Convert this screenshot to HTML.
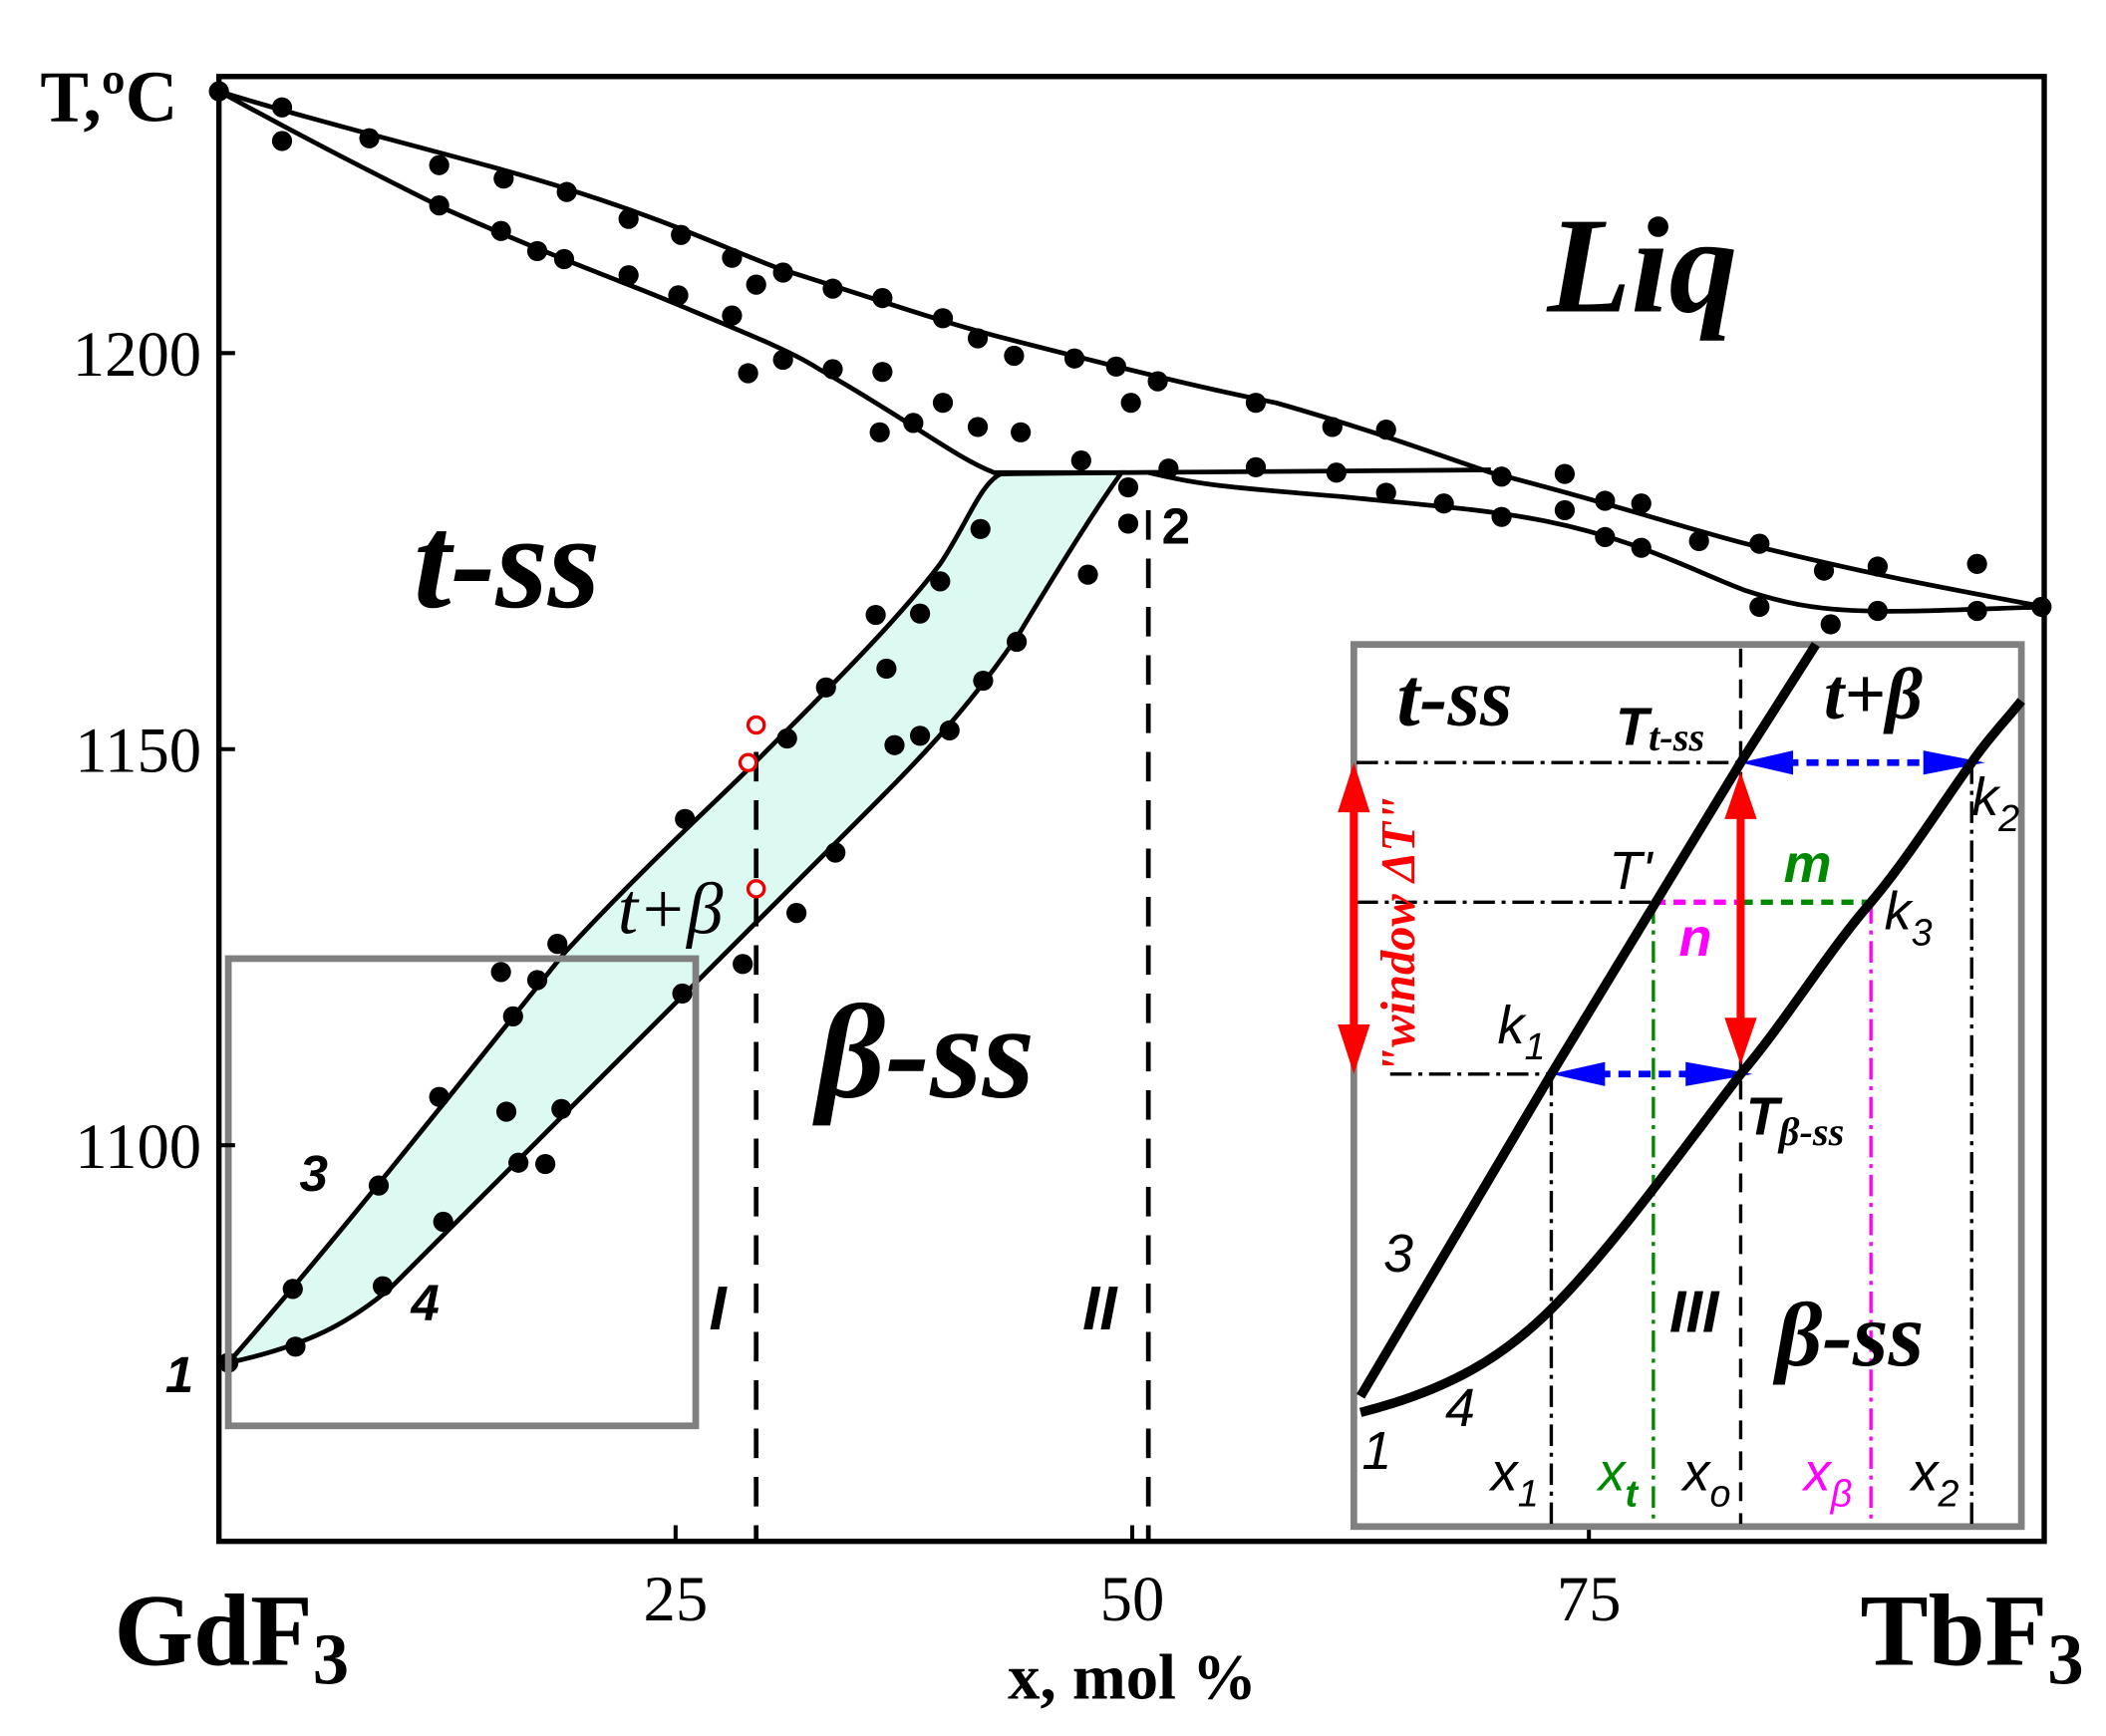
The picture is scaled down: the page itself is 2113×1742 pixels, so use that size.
<!DOCTYPE html>
<html><head><meta charset="utf-8"><style>html,body{margin:0;padding:0;background:#fff}svg{display:block}</style></head>
<body>
<svg width="2113" height="1742" viewBox="0 0 1568 1293" preserveAspectRatio="none" xmlns="http://www.w3.org/2000/svg" font-family="Liberation Serif, serif">
<rect width="1568" height="1293" fill="#fff"/>
<path d="M170,1015 C240,935 300,860 420,710 C480,645 530,600 560,570 C620,510 670,460 700,420 C720,390 730,360 745,353 L835,352 C815,380 790,420 760,470 C720,530 680,570 640,610 C590,660 540,710 520,730 C460,790 420,830 400,850 C340,910 300,950 290,960 C260,985 230,1002 170,1015 Z" fill="#dcfaf2" stroke="#000" stroke-width="3.5"/>
<path d="M163,68 C250,95 350,118 420,140 C500,165 540,185 580,200 C660,225 700,240 760,255 C850,278 900,290 950,300 C1020,320 1060,335 1110,352 C1200,375 1250,392 1300,405 C1400,430 1460,440 1522,452" fill="none" stroke="#000" stroke-width="3.5"/>
<path d="M163,68 C240,110 290,135 330,155 C420,195 470,212 500,225 C560,250 590,262 610,275 C680,315 710,340 740,352 L835,352 M855,352 C890,360 900,362 1000,370 C1080,378 1110,380 1150,388 C1220,402 1260,425 1300,440 C1360,460 1400,456 1522,452" fill="none" stroke="#000" stroke-width="3.5"/>
<path d="M835,352 L1110,350" fill="none" stroke="#000" stroke-width="3.5"/>
<line x1="563" y1="560" x2="563" y2="1148" stroke="#000" stroke-width="3.5" stroke-dasharray="22,14"/>
<line x1="855" y1="380" x2="855" y2="1148" stroke="#000" stroke-width="3.5" stroke-dasharray="22,14"/>
<g fill="#000">
<circle cx="163" cy="68" r="7.5"/><circle cx="210" cy="80" r="7.5"/><circle cx="275" cy="103" r="7.5"/><circle cx="327" cy="123" r="7.5"/><circle cx="375" cy="133" r="7.5"/><circle cx="422" cy="143" r="7.5"/><circle cx="468" cy="163" r="7.5"/><circle cx="507" cy="175" r="7.5"/><circle cx="545" cy="192" r="7.5"/><circle cx="583" cy="203" r="7.5"/><circle cx="620" cy="215" r="7.5"/><circle cx="657" cy="222" r="7.5"/><circle cx="702" cy="237" r="7.5"/><circle cx="728" cy="252" r="7.5"/><circle cx="755" cy="265" r="7.5"/><circle cx="800" cy="267" r="7.5"/><circle cx="831" cy="273" r="7.5"/><circle cx="862" cy="284" r="7.5"/><circle cx="935" cy="300" r="7.5"/><circle cx="992" cy="318" r="7.5"/><circle cx="1032" cy="320" r="7.5"/><circle cx="1118" cy="355" r="7.5"/><circle cx="1165" cy="353" r="7.5"/><circle cx="1195" cy="373" r="7.5"/><circle cx="1222" cy="375" r="7.5"/><circle cx="1310" cy="405" r="7.5"/><circle cx="1358" cy="425" r="7.5"/><circle cx="1398" cy="422" r="7.5"/><circle cx="1472" cy="420" r="7.5"/><circle cx="1520" cy="452" r="7.5"/>
<circle cx="210" cy="105" r="7.5"/><circle cx="327" cy="153" r="7.5"/><circle cx="373" cy="172" r="7.5"/><circle cx="400" cy="187" r="7.5"/><circle cx="420" cy="193" r="7.5"/><circle cx="468" cy="205" r="7.5"/><circle cx="505" cy="220" r="7.5"/><circle cx="545" cy="235" r="7.5"/><circle cx="563" cy="212" r="7.5"/><circle cx="557" cy="278" r="7.5"/><circle cx="583" cy="268" r="7.5"/><circle cx="620" cy="275" r="7.5"/><circle cx="657" cy="277" r="7.5"/><circle cx="655" cy="322" r="7.5"/><circle cx="680" cy="315" r="7.5"/><circle cx="702" cy="300" r="7.5"/><circle cx="728" cy="318" r="7.5"/><circle cx="760" cy="322" r="7.5"/><circle cx="805" cy="343" r="7.5"/><circle cx="842" cy="300" r="7.5"/><circle cx="840" cy="363" r="7.5"/><circle cx="870" cy="349" r="7.5"/><circle cx="935" cy="348" r="7.5"/><circle cx="995" cy="352" r="7.5"/><circle cx="1032" cy="367" r="7.5"/><circle cx="1075" cy="375" r="7.5"/><circle cx="1118" cy="385" r="7.5"/><circle cx="1165" cy="380" r="7.5"/><circle cx="1195" cy="400" r="7.5"/><circle cx="1222" cy="408" r="7.5"/><circle cx="1265" cy="403" r="7.5"/><circle cx="1310" cy="452" r="7.5"/><circle cx="1363" cy="465" r="7.5"/><circle cx="1398" cy="455" r="7.5"/><circle cx="1472" cy="455" r="7.5"/>
<circle cx="652" cy="458" r="7.5"/><circle cx="685" cy="457" r="7.5"/><circle cx="700" cy="433" r="7.5"/><circle cx="730" cy="394" r="7.5"/><circle cx="660" cy="498" r="7.5"/><circle cx="615" cy="512" r="7.5"/><circle cx="586" cy="550" r="7.5"/><circle cx="510" cy="610" r="7.5"/><circle cx="415" cy="703" r="7.5"/><circle cx="373" cy="724" r="7.5"/><circle cx="400" cy="730" r="7.5"/><circle cx="382" cy="757" r="7.5"/><circle cx="327" cy="817" r="7.5"/><circle cx="377" cy="828" r="7.5"/><circle cx="282" cy="883" r="7.5"/><circle cx="218" cy="960" r="7.5"/><circle cx="285" cy="958" r="7.5"/><circle cx="220" cy="1003" r="7.5"/><circle cx="330" cy="910" r="7.5"/><circle cx="386" cy="866" r="7.5"/><circle cx="406" cy="867" r="7.5"/><circle cx="418" cy="826" r="7.5"/><circle cx="508" cy="740" r="7.5"/><circle cx="553" cy="718" r="7.5"/><circle cx="593" cy="680" r="7.5"/><circle cx="622" cy="635" r="7.5"/><circle cx="666" cy="555" r="7.5"/><circle cx="685" cy="548" r="7.5"/><circle cx="707" cy="544" r="7.5"/><circle cx="732" cy="507" r="7.5"/><circle cx="757" cy="478" r="7.5"/><circle cx="810" cy="428" r="7.5"/><circle cx="840" cy="390" r="7.5"/><circle cx="170" cy="1015" r="7.5"/>
</g>
<g fill="#fff" stroke="#e00" stroke-width="2.5"><circle cx="563" cy="540" r="6"/><circle cx="557" cy="568" r="6"/><circle cx="563" cy="662" r="6"/></g>
<rect x="170" y="714" width="348" height="348" fill="none" stroke="#808080" stroke-width="5"/>
<rect x="163" y="57" width="1359" height="1091" fill="none" stroke="#000" stroke-width="4"/>
<g stroke="#000" stroke-width="3"><line x1="163" y1="263" x2="175" y2="263"/><line x1="163" y1="558" x2="175" y2="558"/><line x1="163" y1="853" x2="175" y2="853"/><line x1="503" y1="1148" x2="503" y2="1136"/><line x1="843" y1="1148" x2="843" y2="1136"/><line x1="1183" y1="1148" x2="1183" y2="1136"/></g>
<g font-size="48" fill="#000" text-anchor="end"><text x="150" y="280">1200</text><text x="150" y="575">1150</text><text x="150" y="870">1100</text></g>
<g font-size="48" fill="#000" text-anchor="middle"><text x="503" y="1207">25</text><text x="843" y="1207">50</text><text x="1183" y="1207">75</text></g>
<text x="30" y="90" font-size="54" font-weight="bold">T,ºC</text>
<text x="85" y="1240" font-size="76" font-weight="bold">GdF<tspan font-size="54" dy="14">3</tspan></text>
<text x="1385" y="1240" font-size="76" font-weight="bold">TbF<tspan font-size="54" dy="14">3</tspan></text>
<text x="843" y="1265" font-size="48" font-weight="bold" text-anchor="middle">x, mol %</text>
<text x="1152" y="232" font-size="102" font-weight="bold" font-style="italic">Liq</text>
<text x="308" y="452" font-size="100" font-weight="bold" font-style="italic">t-ss</text>
<text x="608" y="817" font-size="100" font-weight="bold" font-style="italic">β-ss</text>
<text x="460" y="695" font-size="54" font-style="italic">t+β</text>
<g font-family="Liberation Sans, sans-serif" font-weight="bold" font-style="italic" font-size="38"><text x="123" y="1037">1</text><text x="223" y="887">3</text><text x="306" y="983">4</text><text x="865" y="405" font-style="normal">2</text><text x="528" y="990" font-size="46">I</text><text x="806" y="990" font-size="46">II</text></g>
<rect x="1008" y="480" width="497" height="657" fill="#fff" stroke="#808080" stroke-width="5"/>
<g stroke-width="2.5" fill="none">
<line x1="1296" y1="483" x2="1296" y2="1135" stroke="#000" stroke-dasharray="14,9"/>
<line x1="1155" y1="800" x2="1155" y2="1135" stroke="#000" stroke-dasharray="16,5,3,5"/>
<line x1="1231" y1="672" x2="1231" y2="1135" stroke="#080" stroke-dasharray="16,5,3,5"/>
<line x1="1393" y1="672" x2="1393" y2="1135" stroke="#f0f" stroke-dasharray="16,5,3,5"/>
<line x1="1468" y1="568" x2="1468" y2="1135" stroke="#000" stroke-dasharray="16,5,3,5"/>
<line x1="1010" y1="568" x2="1296" y2="568" stroke="#000" stroke-dasharray="16,5,3,5"/>
<line x1="1010" y1="672" x2="1231" y2="672" stroke="#000" stroke-dasharray="16,5,3,5"/>
<line x1="1035" y1="800" x2="1155" y2="800" stroke="#000" stroke-dasharray="16,5,3,5"/>
<line x1="1231" y1="672" x2="1296" y2="672" stroke="#f0f" stroke-width="4" stroke-dasharray="9,6"/>
<line x1="1296" y1="672" x2="1393" y2="672" stroke="#080" stroke-width="4" stroke-dasharray="9,6"/>
<line x1="1330" y1="568" x2="1435" y2="568" stroke="#00f" stroke-width="5" stroke-dasharray="9,6"/>
<line x1="1190" y1="800" x2="1260" y2="800" stroke="#00f" stroke-width="5" stroke-dasharray="9,6"/>
</g>
<g fill="#00f"><polygon points="1296,568 1335,559 1335,577"/><polygon points="1478,568 1432,559 1432,577"/><polygon points="1155,800 1195,791 1195,809"/><polygon points="1305,800 1255,791 1255,809"/></g>
<g stroke="#f00" stroke-width="6"><line x1="1296" y1="600" x2="1296" y2="765"/><line x1="1008" y1="600" x2="1008" y2="765"/></g>
<g fill="#f00"><polygon points="1296,575 1284,610 1308,610"/><polygon points="1296,793 1284,758 1308,758"/><polygon points="1008,568 996,605 1020,605"/><polygon points="1008,800 996,763 1020,763"/></g>
<text transform="translate(1053,800) rotate(-90)" font-size="36" font-style="italic" font-weight="bold" fill="#f00">"window ΔT"</text>
<path d="M1013,1040 L1155,800 L1296,568 L1352,480" fill="none" stroke="#000" stroke-width="7"/>
<path d="M1013,1052 C1080,1035 1120,1010 1155,975 C1200,930 1250,860 1296,800 C1330,760 1360,710 1393,672 C1420,640 1445,600 1468,568 C1480,550 1495,535 1505,522" fill="none" stroke="#000" stroke-width="7"/>
<text x="1040" y="540" font-size="62" font-weight="bold" font-style="italic">t-ss</text>
<text x="1358" y="535" font-size="54" font-weight="bold" font-style="italic">t+β</text>
<text x="1322" y="1017" font-size="68" font-weight="bold" font-style="italic">β-ss</text>
<g font-family="Liberation Sans, sans-serif" font-size="40" font-style="italic">
<text x="1203" y="555" font-weight="bold">T<tspan font-size="30" dy="4" font-family="Liberation Serif, serif">t-ss</tspan></text>
<text x="1300" y="845" font-weight="bold">T<tspan font-size="30" dy="8" font-family="Liberation Serif, serif">β-ss</tspan></text>
<text x="1198" y="662">T'</text>
<text x="1328" y="657" fill="#080" font-weight="bold">m</text>
<text x="1250" y="712" fill="#f0f" font-weight="bold">n</text>
<text x="1115" y="777">k<tspan font-size="28" dy="12">1</tspan></text>
<text x="1468" y="607">k<tspan font-size="28" dy="12">2</tspan></text>
<text x="1403" y="692">k<tspan font-size="28" dy="12">3</tspan></text>
<text x="1030" y="947">3</text><text x="1076" y="1062">4</text><text x="1014" y="1094">1</text>
<text x="1243" y="992" font-weight="bold" font-size="44">III</text>
<text x="1110" y="1110">x<tspan font-size="28" dy="12">1</tspan></text>
<text x="1190" y="1110" fill="#080">x<tspan font-size="28" dy="12" font-weight="bold">t</tspan></text>
<text x="1253" y="1110">x<tspan font-size="28" dy="12">o</tspan></text>
<text x="1343" y="1110" fill="#f0f">x<tspan font-size="28" dy="12">β</tspan></text>
<text x="1423" y="1110">x<tspan font-size="28" dy="12">2</tspan></text>
</g>
</svg>
</body></html>
